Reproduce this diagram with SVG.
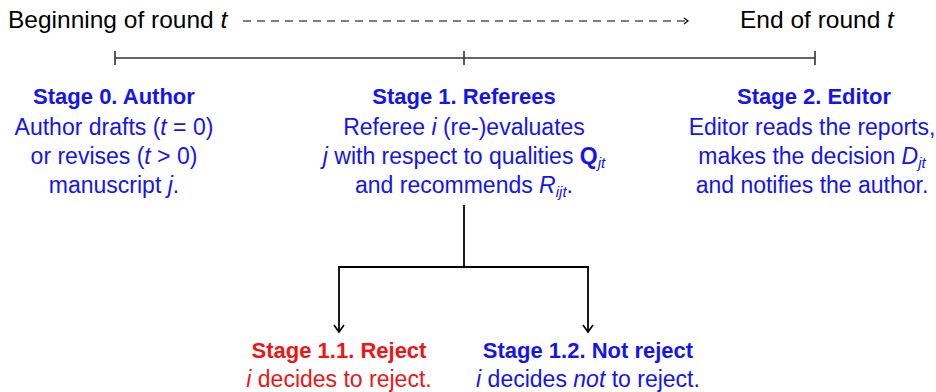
<svg xmlns="http://www.w3.org/2000/svg" width="936" height="392" viewBox="0 0 936 392">
<style>
text{font-family:"Liberation Sans",Arial,sans-serif;font-size:23px}
.top{font-size:24.5px}
.k{fill:#000}
.b{fill:#1414f0}
.r{fill:#f01414}
.h{font-weight:bold;font-size:22px}
.i{font-style:italic}
.qb{font-weight:bold}
.sub{font-size:15px;font-style:italic}
.ln{stroke:#000;stroke-width:1.8;fill:none}
.tl{stroke:#333;stroke-width:1.6;fill:none}
</style>
<defs>
<marker id="ah" viewBox="0 0 12 12" refX="10" refY="6" markerWidth="12" markerHeight="12" markerUnits="userSpaceOnUse" orient="auto">
<path d="M3,1 L10,6 L3,11" fill="none" stroke="#000" stroke-width="1.6"/>
</marker>
<marker id="ah2" viewBox="0 0 10 10" refX="8" refY="5" markerWidth="10" markerHeight="10" markerUnits="userSpaceOnUse" orient="auto">
<path d="M4,2 L8,5 L4,8" fill="none" stroke="#000" stroke-width="1.2"/>
</marker>
</defs>
<g id="timeline">
<text class="k top" x="8" y="28">Beginning of round <tspan class="i">t</tspan></text>
<text class="k top" x="740" y="28">End of round <tspan class="i">t</tspan></text>
<line x1="243" y1="21" x2="688" y2="21" stroke="#000" stroke-width="1.2" stroke-dasharray="8,6" marker-end="url(#ah2)"/>
<line class="tl" x1="115" y1="58" x2="815" y2="58"/>
<line class="tl" x1="115" y1="51" x2="115" y2="65"/>
<line class="tl" x1="464" y1="51" x2="464" y2="65"/>
<line class="tl" x1="815" y1="51" x2="815" y2="65"/>
</g>
<g id="stage0">
<text class="b h" x="114" y="104" text-anchor="middle">Stage 0.  Author</text>
<text class="b" x="114" y="135" text-anchor="middle">Author drafts (<tspan class="i">t</tspan> = 0)</text>
<text class="b" x="114" y="164" text-anchor="middle">or revises (<tspan class="i">t</tspan> &gt; 0)</text>
<text class="b" x="114" y="193" text-anchor="middle">manuscript <tspan class="i">j</tspan>.</text>
</g>
<g id="stage1">
<text class="b h" x="464" y="104" text-anchor="middle">Stage 1.  Referees</text>
<text class="b" x="464" y="135" text-anchor="middle">Referee <tspan class="i">i</tspan> (re-)evaluates</text>
<text class="b" x="464" y="164" text-anchor="middle"><tspan class="i">j</tspan> with respect to qualities <tspan class="qb">Q</tspan><tspan class="sub" dy="4">jt</tspan></text>
<text class="b" x="464" y="193" text-anchor="middle">and recommends <tspan class="i">R</tspan><tspan class="sub" dy="4">ijt</tspan><tspan dy="-4">.</tspan></text>
</g>
<g id="stage2">
<text class="b h" x="814" y="104" text-anchor="middle">Stage 2.  Editor</text>
<text class="b" x="812" y="135" text-anchor="middle">Editor reads the reports,</text>
<text class="b" x="812" y="164" text-anchor="middle">makes the decision <tspan class="i">D</tspan><tspan class="sub" dy="4">jt</tspan></text>
<text class="b" x="812" y="193" text-anchor="middle">and notifies the author.</text>
</g>
<g id="stage11">
<text class="r h" x="339" y="358" text-anchor="middle">Stage 1.1.  Reject</text>
<text class="r" x="339" y="387" text-anchor="middle"><tspan class="i">i</tspan> decides to reject.</text>
</g>
<g id="stage12">
<text class="b h" x="588" y="358" text-anchor="middle">Stage 1.2.  Not reject</text>
<text class="b" x="588" y="387" text-anchor="middle"><tspan class="i">i</tspan> decides <tspan class="i">not</tspan> to reject.</text>
</g>
<g id="connectors">
<line class="ln" x1="464" y1="205" x2="464" y2="267"/>
<line class="ln" x1="338" y1="267" x2="589" y2="267"/>
<line class="ln" x1="339" y1="267" x2="339" y2="332" marker-end="url(#ah)"/>
<line class="ln" x1="588" y1="267" x2="588" y2="332" marker-end="url(#ah)"/>
</g>
</svg>
